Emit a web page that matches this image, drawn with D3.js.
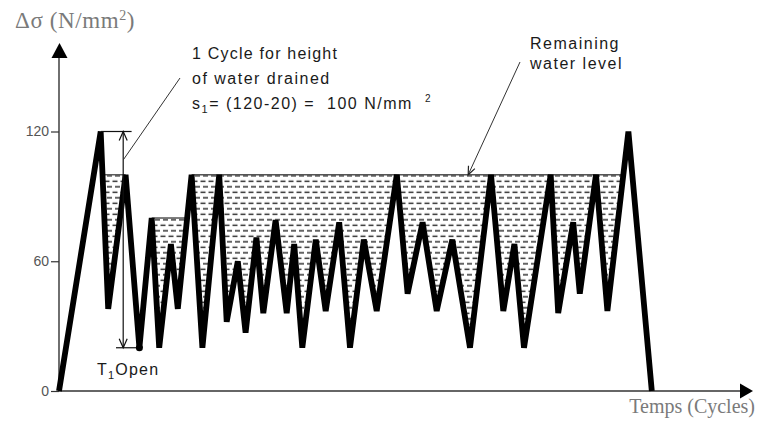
<!DOCTYPE html>
<html><head><meta charset="utf-8">
<script src="https://cdn.jsdelivr.net/npm/d3@7"></script>
<style>
html,body{margin:0;padding:0;background:#fff;}
svg{display:block;}
</style></head><body>
<svg id="chart" width="758" height="436"></svg>
<script>
// Stress history: time (arbitrary cycle units) and stress range (N/mm²)
const times = [0,6.95,8.2,11.1,13.4,15.45,16.7,18.65,19.8,22.1,
  23.9,26.7,27.95,29.8,31.1,32.9,34.05,36.1,37.95,39.2,
  40.55,42.8,44.45,46.7,48.5,50.8,52.95,56.3,58.1,60.6,
  62.95,65.55,68.5,72,74.05,75.9,77.5,81.95,83.2,85.7,
  86.8,89.5,91.4,94.9,98.8];
const stress = [0,120,38,100,20,80,20,68,38,100,
  20,100,32,60,27,71,36,79,36,68,
  20,70,37,78,20,70,37,100,45,78,
  37,70,20,100,37,68,20,100,36,78,
  45,100,37,120,0];

// Water pools: level and the bounding vertices on each side
const poolLevels = [100, 80, 100];
const poolStart = [1, 5, 9];
const poolEnd = [3, 9, 43];

const yTicks = [0, 60, 120];

// Drained cycle: from peak to valley
const cycleTop = 120, cycleBottom = 20, cycleTime = 10.7;

const svg = d3.select("#chart");
const x = d3.scaleLinear().domain([0, 100]).range([59, 659]);
const y = d3.scaleLinear().domain([0, 120]).range([391, 131.5]);

// hatch pattern for the water
const defs = svg.append("defs");
const pat = defs.append("pattern")
  .attr("id", "water").attr("patternUnits", "userSpaceOnUse")
  .attr("width", 8).attr("height", 11)
  .attr("x", 0).attr("y", y(100) + 1);
[[0.5, 5.5, 5.5], [3, 8, 11], [3, 8, 0]].forEach(([a, b, h]) => {
  pat.append("line").attr("x1", a).attr("x2", b).attr("y1", h).attr("y2", h)
    .attr("stroke", "#111").attr("stroke-width", 1.3);
});

function crossX(i, level) {
  const v0 = stress[i], v1 = stress[i + 1];
  const f = (level - v0) / (v1 - v0);
  return x(times[i] + f * (times[i + 1] - times[i]));
}

const line = d3.line();
poolLevels.forEach((level, p) => {
  const a = poolStart[p], b = poolEnd[p];
  const left = crossX(a, level), right = crossX(b - 1, level);
  const pts = [[left, y(level)]];
  for (let k = a + 1; k < b; k++) pts.push([x(times[k]), y(stress[k])]);
  pts.push([right, y(level)]);
  svg.append("path").attr("d", line(pts) + "Z").attr("fill", "url(#water)");
  svg.append("line").attr("x1", left).attr("x2", right)
    .attr("y1", y(level)).attr("y2", y(level))
    .attr("stroke", "#555").attr("stroke-width", 1.4);
});

// axes
const axisColor = "#333";
svg.append("line").attr("x1", 59).attr("x2", 59).attr("y1", y(0)).attr("y2", 57)
  .attr("stroke", axisColor).attr("stroke-width", 1.4);
svg.append("path").attr("d", "M59.5,43 L67.5,58 L51.5,58 Z").attr("fill", "#000");
svg.append("line").attr("x1", 59).attr("x2", 741).attr("y1", y(0)).attr("y2", y(0))
  .attr("stroke", axisColor).attr("stroke-width", 1.4);
svg.append("path").attr("d", `M753,${y(0)} L740,${y(0) - 7.5} L740,${y(0) + 7.5} Z`).attr("fill", "#000");

const yAxis = svg.append("g").attr("transform", "translate(59,0)")
  .call(d3.axisLeft(y).tickValues(yTicks).tickSize(8).tickPadding(2).tickFormat(d3.format("d")));
yAxis.select(".domain").remove();
yAxis.selectAll(".tick line").attr("stroke", axisColor).attr("stroke-width", 1.2);
yAxis.selectAll(".tick text").attr("fill", "#555")
  .attr("font-family", "Liberation Sans, Arial, sans-serif").attr("font-size", 14);

// stress history
svg.append("path")
  .attr("d", line(times.map((t, i) => [x(t), y(stress[i])])))
  .attr("fill", "none").attr("stroke", "#000").attr("stroke-width", 5.8)
  .attr("stroke-linejoin", "bevel");

// drained cycle dimension
const ax = x(cycleTime), yT = y(cycleTop), yB = y(cycleBottom);
const ann = svg.append("g").attr("stroke", "#111").attr("stroke-width", 1.2).attr("fill", "none");
ann.append("line").attr("x1", x(times[1])).attr("x2", x(12.1)).attr("y1", yT).attr("y2", yT);
ann.append("line").attr("x1", x(9.5)).attr("x2", x(times[4])).attr("y1", yB).attr("y2", yB);
ann.append("line").attr("x1", ax).attr("x2", ax).attr("y1", yT).attr("y2", yB);
ann.append("path").attr("d", `M${ax - 4},${yT + 9} L${ax},${yT} L${ax + 4},${yT + 9}`);
ann.append("path").attr("d", `M${ax - 4},${yB - 9} L${ax},${yB} L${ax + 4},${yB - 9}`);
svg.append("circle").attr("cx", x(times[4])).attr("cy", yB).attr("r", 3.5).attr("fill", "#000");

// leader lines
svg.append("line").attr("x1", 180).attr("y1", 78).attr("x2", ax).attr("y2", 160)
  .attr("stroke", "#333").attr("stroke-width", 1);
const lx1 = 520, ly1 = 62, lx2 = x(68.2), ly2 = y(100);
svg.append("line").attr("x1", lx1).attr("y1", ly1).attr("x2", lx2).attr("y2", ly2)
  .attr("stroke", "#333").attr("stroke-width", 1);
const ang = Math.atan2(ly2 - ly1, lx2 - lx1);
const hl = 9, hw = 0.4;
svg.append("path")
  .attr("d", `M${lx2 - hl * Math.cos(ang - hw)},${ly2 - hl * Math.sin(ang - hw)} L${lx2},${ly2} L${lx2 - hl * Math.cos(ang + hw)},${ly2 - hl * Math.sin(ang + hw)}`)
  .attr("fill", "none").attr("stroke", "#222").attr("stroke-width", 1.2);

// texts
const sans = "Liberation Sans, Arial, sans-serif";
const serif = "Liberation Serif, Times New Roman, serif";
function note(tx, ty, str, ls) {
  return svg.append("text").attr("x", tx).attr("y", ty)
    .attr("font-family", sans).attr("font-size", 16).attr("letter-spacing", ls)
    .attr("fill", "#1a1a1a").text(str);
}
note(192, 59, "1 Cycle for height", 1.2);
note(192, 84, "of water drained", 1.5);
const s1 = svg.append("text").attr("x", 192).attr("y", 109)
  .attr("font-family", sans).attr("font-size", 16).attr("letter-spacing", 1.5)
  .attr("fill", "#1a1a1a").attr("xml:space", "preserve");
s1.append("tspan").text("s");
s1.append("tspan").attr("font-size", 11).attr("dy", 4).text("1");
s1.append("tspan").attr("dy", -4).text("= (120-20) =  100 N/mm");
s1.append("tspan").attr("font-size", 10).attr("dx", 12).attr("dy", -7).text("2");

note(530, 49, "Remaining", 1.5);
note(530, 69, "water level", 1.5);

const t1 = svg.append("text").attr("x", 97).attr("y", 375)
  .attr("font-family", sans).attr("font-size", 16).attr("letter-spacing", 1.2).attr("fill", "#1a1a1a");
t1.append("tspan").text("T");
t1.append("tspan").attr("font-size", 11).attr("dy", 4).text("1");
t1.append("tspan").attr("dy", -4).text("Open");

const title = svg.append("text").attr("x", 15).attr("y", 28)
  .attr("font-family", serif).attr("font-size", 23).attr("letter-spacing", 0.6).attr("fill", "#7a7a7a");
title.append("tspan").text("Δσ (N/mm");
title.append("tspan").attr("font-size", 14).attr("dy", -8).text("2");
title.append("tspan").attr("dy", 8).text(")");

svg.append("text").attr("x", 755).attr("y", 413).attr("text-anchor", "end")
  .attr("font-family", serif).attr("font-size", 20).attr("fill", "#7a7a7a")
  .text("Temps (Cycles)");
</script>
</body></html>
